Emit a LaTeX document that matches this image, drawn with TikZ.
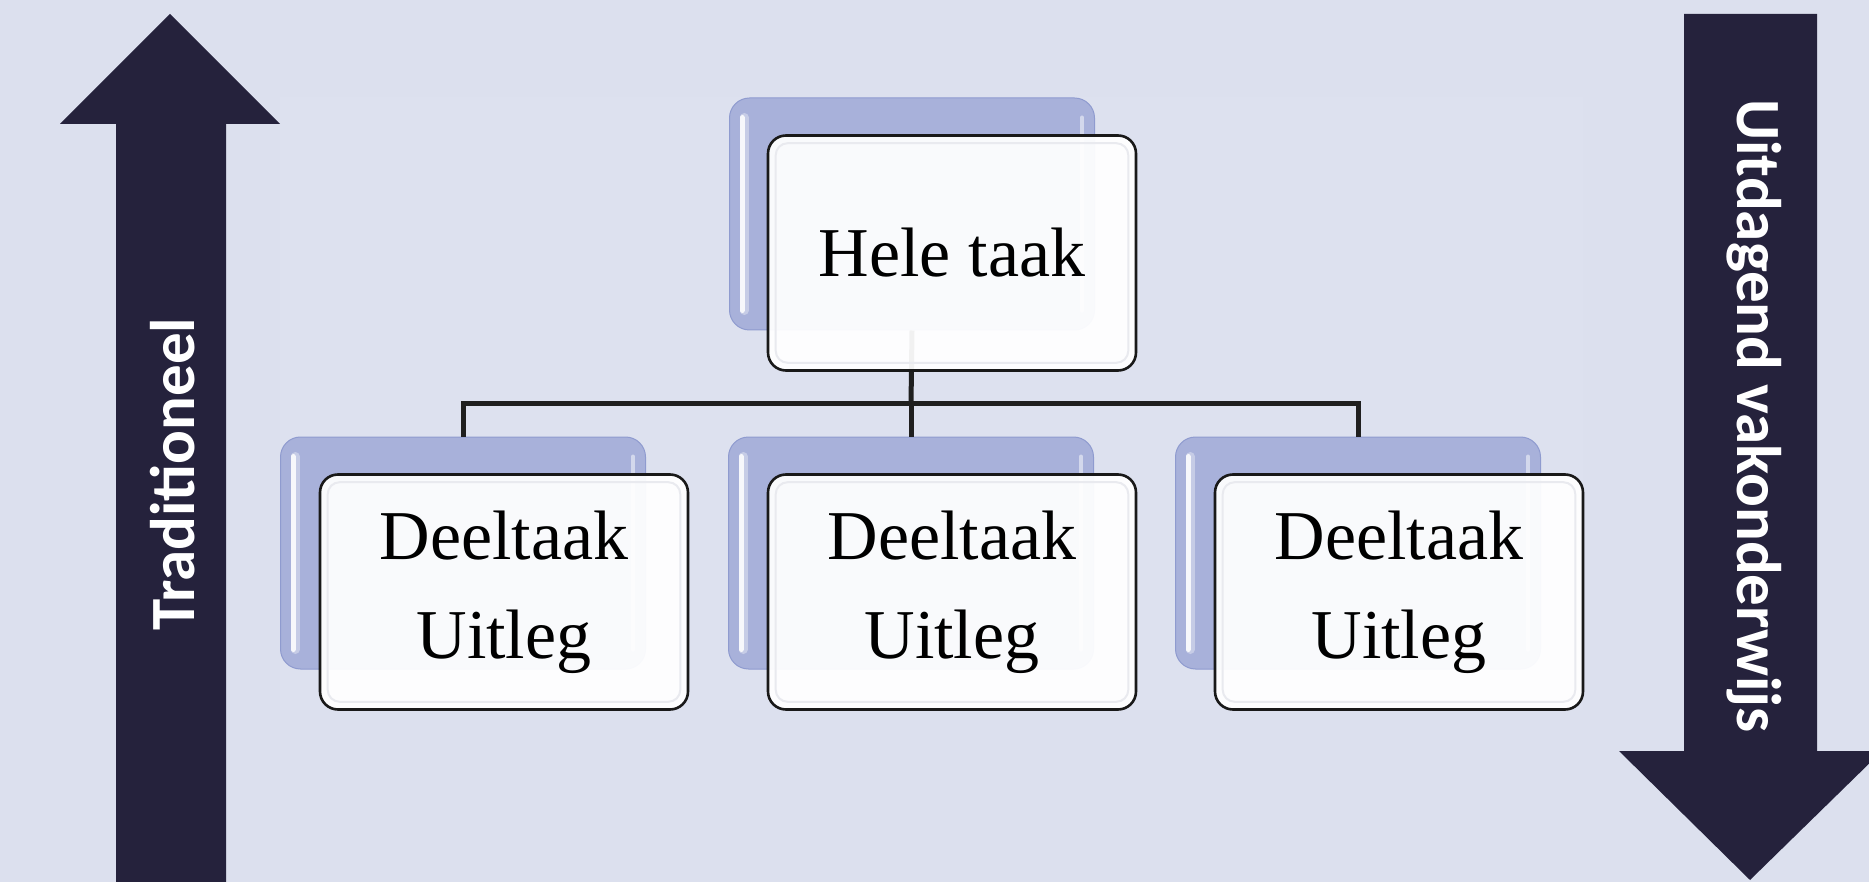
\documentclass[tikz,border=0pt]{standalone}
\usepackage{fontspec}
\setmainfont{Liberation Serif}
\newfontfamily\arrowfont{Carlito}[BoldFont={Carlito Bold}]
\definecolor{bgc}{HTML}{DCE0EE}
\definecolor{bgl}{HTML}{DDE1EF}
\definecolor{navy}{HTML}{25223C}
\definecolor{backfill}{HTML}{A8B1DA}
\definecolor{backedge}{HTML}{8F9BCF}
\definecolor{bevel}{HTML}{E9EAEF}
\tikzset{
  backbox/.style={draw=backedge, line width=1pt, fill=backfill, rounded corners=20pt,
    minimum width=365pt, minimum height=232pt, inner sep=0pt},
  frontbox/.style={draw=black!90, line width=2.6pt, fill=white, fill opacity=0.94, text opacity=1,
    rounded corners=18pt, minimum width=368pt, minimum height=235pt, inner sep=0pt,
    align=center, font=\fontsize{70}{99}\selectfont},
  conn/.style={draw=black!88, line width=5pt},
  arrowtext/.style={text=white, font=\arrowfont\bfseries\fontsize{63}{70}\selectfont, inner sep=0pt}
}
\newcommand{\glossback}[1]{%
  \draw[white, opacity=0.85, line width=5pt, line cap=round]
    ([xshift=13pt,yshift=-20pt]#1.north west) -- ([xshift=13pt,yshift=20pt]#1.south west);
  \draw[white, opacity=0.35, line width=9pt, line cap=round]
    ([xshift=15pt,yshift=-20pt]#1.north west) -- ([xshift=15pt,yshift=20pt]#1.south west);
  \draw[white, opacity=0.5, line width=4pt, line cap=round]
    ([xshift=-13pt,yshift=-20pt]#1.north east) -- ([xshift=-13pt,yshift=20pt]#1.south east);
}
\newcommand{\bevelfront}[1]{%
  \draw[bevel, line width=2pt, rounded corners=12pt]
    ([xshift=9pt,yshift=-9pt]#1.north west) rectangle ([xshift=-9pt,yshift=9pt]#1.south east);
}
\begin{document}
\begin{tikzpicture}[x=1pt,y=-1pt]
\useasboundingbox (0,0) rectangle (1869,882);
\clip (0,0) rectangle (1869,882);
\fill[bgc] (0,0) rectangle (1869,882);
\fill[bgl] (280,97) rectangle (1583,710);

% arrows
\fill[navy] (116,882) -- (116,124) -- (60,124) -- (170,14) -- (280,124) -- (226,124) -- (226,882) -- cycle;
\fill[navy] (1684,14) -- (1817,14) -- (1817,751) -- (1882,751) -- (1750,880) -- (1619,751) -- (1684,751) -- cycle;
\node[arrowtext, rotate=90] (trad) at (173,474) {Traditioneel};
\node[arrowtext, rotate=-90] (uitd) at (1754,416) {Uitdagend vakonderwijs};

% back boxes
\node[backbox] (topback) at (912,214) {};
\node[backbox] (c1back) at (463,553) {};
\node[backbox] (c2back) at (911,553) {};
\node[backbox] (c3back) at (1358,553) {};

% connectors
\coordinate (bus) at (911,404);
\draw[conn] (topback.south) -- (bus);
\draw[conn] (bus) -| (c1back.north);
\draw[conn] (bus) -| (c3back.north);
\draw[conn] (bus) -- (c2back.north);

\glossback{topback}
\glossback{c1back}
\glossback{c2back}
\glossback{c3back}

% front boxes
\node[frontbox] (top) at (952,253) {\raisebox{-4pt}{Hele taak}};
\node[frontbox] (c1) at (504,592) {Deeltaak\\Uitleg};
\node[frontbox] (c2) at (952,592) {Deeltaak\\Uitleg};
\node[frontbox] (c3) at (1399,592) {Deeltaak\\Uitleg};
\bevelfront{top}
\bevelfront{c1}
\bevelfront{c2}
\bevelfront{c3}
\end{tikzpicture}
\end{document}
